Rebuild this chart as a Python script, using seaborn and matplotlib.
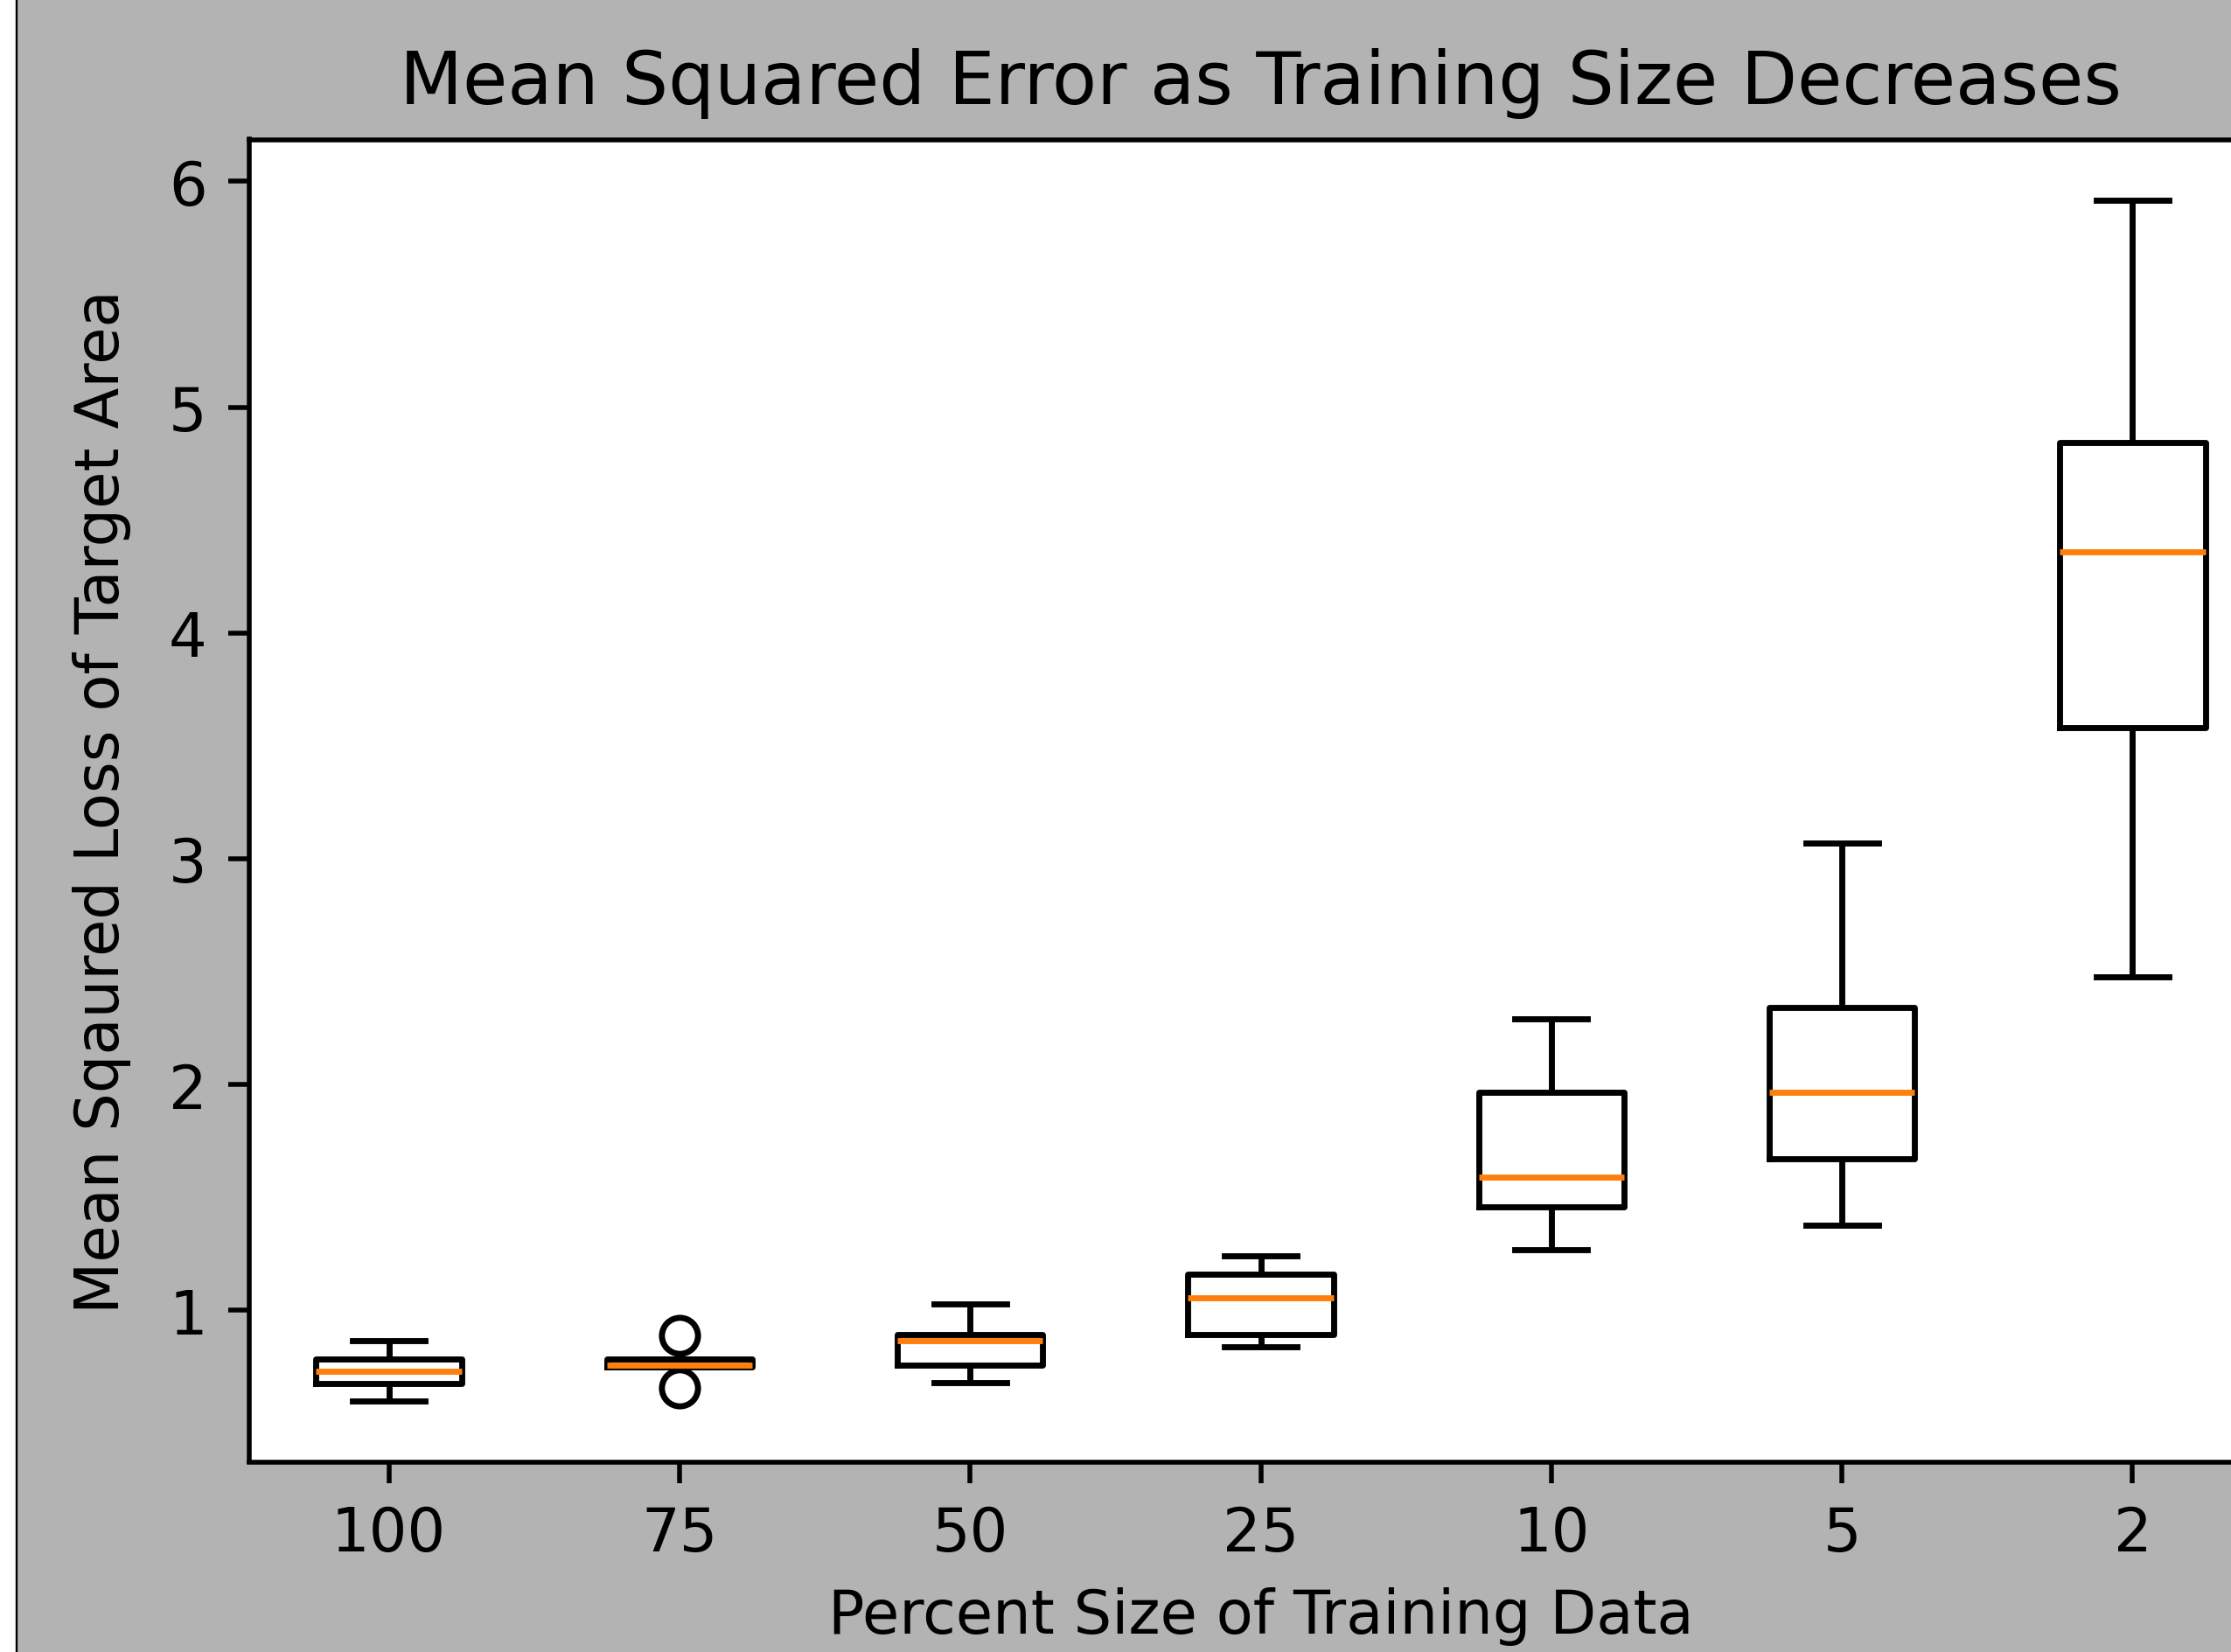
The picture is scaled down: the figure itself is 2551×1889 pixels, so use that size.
import numpy as np
import pandas as pd
import matplotlib
matplotlib.use("Agg")
import matplotlib.pyplot as plt
import seaborn as sns
from matplotlib.lines import Line2D
from matplotlib.patches import Rectangle

# ---- data ----
categories = ["100", "75", "50", "25", "10", "5", "2"]
loss_100 = [0.598, 0.678, 0.730, 0.784, 0.865]
loss_75 = [0.658, 0.752, 0.757, 0.785, 0.891]
loss_50 = [0.679, 0.757, 0.866, 0.893, 1.028]
loss_25 = [0.838, 0.893, 1.055, 1.160, 1.242]
loss_10 = [1.269, 1.460, 1.590, 1.968, 2.290]
loss_5 = [1.377, 1.672, 1.967, 2.343, 3.070]
loss_2 = [2.478, 3.581, 4.360, 4.845, 5.917]
y_ticks = [1, 2, 3, 4, 5, 6]

title = "Mean Squared Error as Training Size Decreases"
x_label = "Percent Size of Training Data"
y_label = "Mean Sqaured Loss of Target Area"

groups = [loss_100, loss_75, loss_50, loss_25, loss_10, loss_5, loss_2]
df = pd.DataFrame({
    "size": np.concatenate([[c] * len(g) for c, g in zip(categories, groups)]),
    "loss": np.concatenate(groups),
})

# ---- styling ----
S = 4.95  # scale of points relative to the original small figure
BG = "#b3b3b3"
plt.rcParams.update({
    "font.family": ["DejaVu Sans"],
    "font.size": 10 * S,
    "axes.titlesize": 12.15 * S,
    "axes.labelsize": 10 * S,
    "xtick.labelsize": 10 * S,
    "ytick.labelsize": 10 * S,
    "axes.linewidth": 0.8 * S,
    "xtick.major.size": 3.5 * S,
    "ytick.major.size": 3.5 * S,
    "xtick.major.width": 0.8 * S,
    "ytick.major.width": 0.8 * S,
    "xtick.major.pad": 3.5 * S,
    "ytick.major.pad": 3.5 * S,
    "axes.labelpad": 4 * S,
    "axes.titlepad": 6 * S,
})

W, H = 2551, 1890
fig = plt.figure(figsize=(W / 100, H / 100), dpi=100, facecolor=BG)
left_px, right_px, top_px, bottom_px = 285, 2598, 160.5, 1672.5
ax = fig.add_axes([left_px / W, 1 - bottom_px / H,
                   (right_px - left_px) / W, (bottom_px - top_px) / H])
ax.set_facecolor("white")

sns.boxplot(
    data=df, x="size", y="loss", order=categories, ax=ax,
    width=0.5, fill=False, color="black", linewidth=1.0 * S,
    fliersize=6 * S,
    medianprops=dict(color="#ff7f0e", linewidth=1.0 * S),
    flierprops=dict(marker="o", markerfacecolor="none",
                    markeredgecolor="black", markeredgewidth=1.0 * S),
)

ax.set_xlim(-0.48, 6.48)
ax.set_ylim(0.33, 6.185)
ax.set_yticks(y_ticks)
ax.set_yticklabels([str(t) for t in y_ticks])
ax.set_title(title)
ax.set_xlabel(x_label)
ax.set_ylabel(y_label, labelpad=4 * S + 11)
for s in ax.spines.values():
    s.set_color("black")
    s.set_linewidth(0.8 * S)

# screenshot border on the left edge
fig.add_artist(Rectangle((0, 0), 17.7 / W, 1, transform=fig.transFigure,
                         facecolor="white", edgecolor="none", zorder=10))
fig.add_artist(Line2D([18.9 / W, 18.9 / W], [0, 1], transform=fig.transFigure,
                      color="black", lw=1.7, zorder=11))

fig.savefig("out.png", dpi=100, facecolor=BG)
